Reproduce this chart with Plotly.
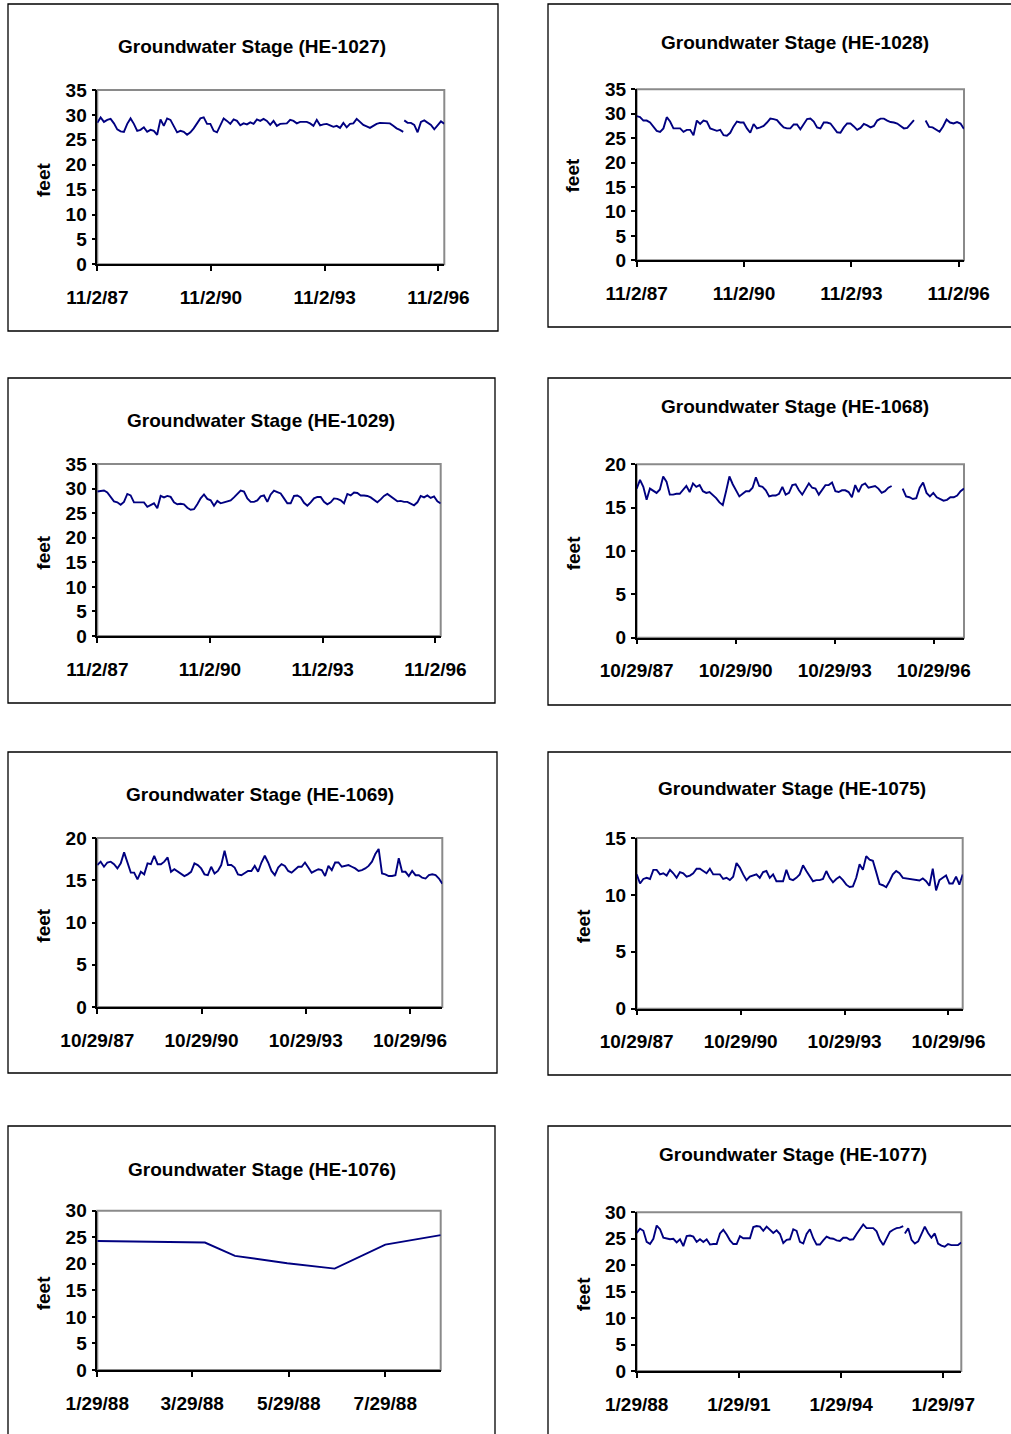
import pandas as pd
import plotly.graph_objects as go

W, H = 1011, 1434

# ---------------- data ----------------
TITLES = ["Groundwater Stage (HE-1027)", "Groundwater Stage (HE-1028)",
          "Groundwater Stage (HE-1029)", "Groundwater Stage (HE-1068)",
          "Groundwater Stage (HE-1069)", "Groundwater Stage (HE-1075)",
          "Groundwater Stage (HE-1076)", "Groundwater Stage (HE-1077)"]
Y_LABEL = "feet"

TICKS_1102 = ["1987-11-02", "1990-11-02", "1993-11-02", "1996-11-02"]
TEXT_1102 = ["11/2/87", "11/2/90", "11/2/93", "11/2/96"]
TICKS_1029 = ["1987-10-29", "1990-10-29", "1993-10-29", "1996-10-29"]
TEXT_1029 = ["10/29/87", "10/29/90", "10/29/93", "10/29/96"]
TICKS_1076 = ["1988-01-29", "1988-03-29", "1988-05-29", "1988-07-29"]
TEXT_1076 = ["1/29/88", "3/29/88", "5/29/88", "7/29/88"]
TICKS_1077 = ["1988-01-29", "1991-01-29", "1994-01-29", "1997-01-29"]
TEXT_1077 = ["1/29/88", "1/29/91", "1/29/94", "1/29/97"]

HE1027_A = [28.4, 29.5, 28.6, 29.0, 29.2, 28.3, 27.1, 26.7, 26.6, 28.2,
            29.3, 28.2, 26.8, 27.0, 27.5, 26.6, 27.0, 26.8, 26.0, 29.1,
            27.8, 29.3, 29.0, 27.8, 26.5, 26.8, 26.6, 26.0, 26.5, 27.3,
            28.2, 29.3, 29.5, 28.2, 28.2, 26.8, 26.5, 28.0, 29.3, 28.8,
            28.2, 29.1, 28.8, 27.9, 28.3, 28.1, 28.5, 28.2, 29.1, 28.8,
            29.2, 28.8, 28.0, 28.8, 27.8, 28.2, 28.2, 28.3, 29.0, 28.8,
            28.3, 28.6, 28.6, 28.6, 28.3, 27.8, 29.0, 27.9, 28.1, 28.2,
            27.9, 27.6, 27.8, 27.4, 28.4, 27.5, 28.2, 28.3, 29.2, 28.6,
            28.0, 27.7, 27.4, 27.8, 28.2, 28.4, 28.4, 28.4, 28.3, 27.8,
            27.3, 27.0, 26.6]
HE1027_B = [28.9, 28.4, 28.4, 28.0, 26.5, 28.6, 28.9, 28.5, 28.0, 27.1, 27.8, 28.7, 28.2]

HE1028_A = [29.5, 29.3, 28.6, 28.6, 28.2, 27.4, 26.5, 26.3, 27.0, 29.3,
            28.4, 27.0, 27.0, 27.0, 26.3, 26.7, 26.7, 25.6, 28.6, 27.9,
            28.6, 28.4, 27.0, 26.7, 26.5, 26.7, 25.6, 25.5, 26.1, 27.4,
            28.4, 28.2, 28.2, 27.0, 26.1, 27.9, 27.0, 27.2, 27.5, 28.2,
            29.0, 28.9, 28.7, 27.9, 27.2, 27.0, 27.0, 27.8, 27.8, 26.8,
            28.0, 28.9, 29.0, 28.4, 27.2, 27.0, 28.2, 28.2, 28.0, 27.2,
            26.2, 26.1, 27.2, 28.0, 28.0, 27.4, 26.7, 27.1, 27.9, 27.6,
            27.2, 27.5, 28.6, 29.0, 29.0, 28.6, 28.3, 28.2, 28.0, 27.5,
            27.0, 27.1, 27.9, 28.7]
HE1028_B = [28.6, 27.3, 27.2, 26.8, 26.3, 27.4, 28.8, 28.2, 28.0, 28.3, 28.0, 26.9]

HE1029 = [29.4, 29.5, 29.6, 29.2, 28.3, 27.4, 27.2, 26.7, 27.3, 28.9,
          28.6, 27.2, 27.2, 27.2, 27.2, 26.3, 26.7, 27.0, 26.0, 28.5,
          28.2, 28.5, 28.3, 27.2, 26.8, 26.9, 26.8, 26.1, 25.7, 25.8,
          26.8, 28.0, 28.8, 27.9, 27.6, 26.5, 27.5, 27.0, 27.2, 27.4,
          27.6, 28.2, 29.0, 29.6, 29.4, 28.0, 27.3, 27.3, 27.6, 28.4,
          28.6, 27.3, 28.8, 29.6, 29.3, 29.0, 28.0, 27.0, 27.0, 28.5,
          28.6, 28.2, 27.1, 26.5, 27.2, 28.0, 28.3, 28.3, 27.3, 26.8,
          27.2, 28.0, 27.9, 27.6, 27.0, 28.9, 28.6, 29.2, 29.1, 28.6,
          28.6, 28.5, 28.2, 27.6, 27.2, 27.8, 28.5, 28.9, 28.4, 27.9,
          27.4, 27.5, 27.3, 27.3, 27.0, 26.6, 27.2, 28.5, 28.2, 28.6,
          28.1, 28.4, 27.4, 27.0]

HE1068_A = [17.2, 18.2, 17.4, 15.9, 17.2, 16.9, 16.7, 17.1, 18.6, 18.0,
            16.5, 16.5, 16.6, 16.6, 17.0, 17.5, 16.8, 17.8, 17.4, 17.6,
            16.9, 16.7, 16.8, 16.5, 16.1, 15.6, 15.3, 16.9, 18.6, 17.7,
            17.0, 16.3, 16.6, 16.9, 16.9, 17.3, 18.5, 17.5, 17.4, 17.0,
            16.3, 16.4, 16.4, 16.6, 17.4, 16.5, 16.7, 17.6, 17.7, 17.0,
            16.5, 17.1, 17.8, 17.3, 17.2, 16.5, 17.1, 17.6, 17.6, 17.9,
            16.9, 16.8, 17.0, 17.0, 16.8, 16.2, 17.6, 16.8, 17.6, 17.8,
            17.3, 17.4, 17.5, 17.2, 16.7, 16.9, 17.3, 17.5]
HE1068_B = [17.2, 16.3, 16.2, 16.0, 16.1, 17.3, 17.9, 16.7, 16.3, 16.7,
            16.2, 16.0, 15.8, 15.9, 16.2, 16.2, 16.4, 16.9, 17.2]

HE1069 = [16.8, 17.2, 16.6, 17.1, 17.2, 16.9, 16.4, 17.0, 18.3, 17.2,
          15.9, 15.9, 15.1, 16.0, 15.7, 17.0, 16.9, 17.9, 16.9, 16.9,
          17.2, 17.7, 16.0, 16.3, 16.0, 15.8, 15.5, 15.7, 16.0, 17.0,
          16.8, 16.4, 15.7, 15.6, 16.6, 15.8, 16.1, 16.8, 18.5, 16.8,
          16.8, 16.5, 15.7, 15.6, 15.9, 16.1, 16.1, 16.7, 16.0, 17.1,
          17.9, 17.1, 16.1, 15.6, 16.5, 16.9, 16.7, 16.1, 15.9, 16.3,
          16.6, 16.6, 17.1, 16.5, 15.9, 16.1, 16.3, 16.2, 15.5, 16.7,
          16.2, 17.1, 17.1, 16.6, 16.7, 16.8, 16.6, 16.4, 16.1, 16.2,
          16.4, 16.7, 17.2, 18.1, 18.7, 15.8, 15.7, 15.5, 15.5, 15.6,
          17.6, 16.0, 16.0, 15.5, 16.1, 15.6, 15.6, 15.3, 15.2, 15.6,
          15.7, 15.6, 15.2, 14.6]

HE1075 = [11.8, 11.0, 11.4, 11.5, 11.4, 12.2, 12.2, 11.8, 11.9, 11.7,
          12.2, 11.9, 11.5, 12.0, 11.9, 11.6, 11.7, 11.9, 12.3, 12.3,
          12.1, 11.9, 12.3, 11.8, 11.8, 11.8, 11.4, 11.5, 11.3, 11.6,
          12.8, 12.4, 11.8, 11.3, 11.6, 11.7, 11.8, 11.5, 12.0, 12.1,
          11.5, 11.8, 11.2, 11.2, 11.2, 12.2, 11.4, 11.3, 11.5, 11.8,
          12.6, 12.1, 11.6, 11.2, 11.3, 11.3, 11.4, 12.1, 11.5, 11.1,
          11.4, 11.6, 11.3, 10.9, 10.7, 10.75, 11.5, 12.7, 12.2, 13.4,
          13.1, 13.0, 12.0, 10.95, 10.85, 10.67, 11.2, 11.8, 12.1, 11.9,
          11.5, 11.45, 11.4, 11.35, 11.3, 11.27, 11.45, 11.2, 10.8, 12.3,
          10.4, 11.3, 11.5, 11.7, 11.0, 11.0, 11.6, 10.9, 11.8]

HE1076_DATES = ["1988-01-29", "1988-04-06", "1988-04-25", "1988-05-28",
                "1988-06-27", "1988-07-29", "1988-09-02"]
HE1076 = [24.3, 24.0, 21.5, 20.1, 19.1, 23.6, 25.4]

HE1077_A = [26.1, 26.9, 26.5, 24.4, 24.0, 25.0, 27.5, 26.8, 25.2, 25.1,
            24.9, 25.0, 24.3, 24.9, 23.6, 25.5, 25.6, 25.4, 24.4, 24.9,
            24.4, 24.9, 23.9, 24.0, 24.0, 26.0, 26.7, 25.8, 24.7, 24.0,
            24.0, 25.5, 25.1, 25.1, 25.1, 27.2, 27.4, 27.3, 26.5, 27.3,
            26.7, 26.1, 26.6, 25.9, 24.2, 24.8, 24.9, 26.8, 26.5, 24.4,
            24.1, 25.9, 26.8, 25.1, 23.9, 23.9, 24.7, 25.4, 25.1, 25.0,
            24.7, 24.6, 25.2, 25.2, 24.8, 24.9, 25.9, 26.9, 27.7, 27.0,
            27.0, 27.0, 26.4, 24.8, 23.8, 25.0, 26.3, 26.7, 27.0, 27.1,
            27.4]
HE1077_B = [26.0, 27.0, 24.8, 24.1, 24.5, 25.9, 27.3, 26.1, 25.2, 26.0,
            24.1, 23.7, 23.5, 24.0, 23.8, 23.8, 23.8, 24.3]

# segments: (first date, last date, values) - samples evenly spaced in time
SEGMENTS = [
    [("1987-11-02", "1995-11-29", HE1027_A), ("1995-12-09", "1996-12-29", HE1027_B)],
    [("1987-11-02", "1995-08-03", HE1028_A), ("1995-11-30", "1996-12-26", HE1028_B)],
    [("1987-11-02", "1996-12-23", HE1029)],
    [("1987-10-29", "1995-07-21", HE1068_A), ("1995-11-20", "1997-09-29", HE1068_B)],
    [("1987-10-29", "1997-10-04", HE1069)],
    [("1987-10-29", "1997-03-28", HE1075)],
    None,
    [("1988-01-29", "1995-11-26", HE1077_A), ("1995-12-14", "1997-08-10", HE1077_B)],
]
X_RANGES = [["1987-11-02", "1996-12-29"], ["1987-11-02", "1996-12-26"],
            ["1987-11-02", "1996-12-23"], ["1987-10-29", "1997-09-29"],
            ["1987-10-29", "1997-10-04"], ["1987-10-29", "1997-03-28"],
            ["1988-01-29", "1988-09-02"], ["1988-01-29", "1997-08-10"]]
Y_MAX = [35, 35, 35, 20, 20, 15, 30, 30]
TICKVALS = [TICKS_1102, TICKS_1102, TICKS_1102, TICKS_1029, TICKS_1029, TICKS_1029, TICKS_1076, TICKS_1077]
TICKTEXT = [TEXT_1102, TEXT_1102, TEXT_1102, TEXT_1029, TEXT_1029, TEXT_1029, TEXT_1076, TEXT_1077]

# ---------------- layout geometry (pixels) ----------------
# box (l, t, r, b), plot area (l, t, r, b), title centre, "feet" centre
GEOM = [
    dict(box=(8, 4, 498, 331), plot=(97.3, 90, 444.3, 264.3), title=(251.7, 46.7), feet=(43, 180)),
    dict(box=(548, 4, 1016, 327), plot=(636.7, 89.3, 964, 260.3), title=(794.7, 42.7), feet=(572.5, 176)),
    dict(box=(8, 378, 495, 703), plot=(97.3, 464, 440.7, 636), title=(261, 420.7), feet=(42.7, 553)),
    dict(box=(548, 378, 1016, 705), plot=(636.7, 464.3, 964, 637.7), title=(794.7, 406.7), feet=(573.3, 553)),
    dict(box=(8, 752, 497, 1073), plot=(97.3, 838, 442.3, 1007), title=(260, 794.7), feet=(42.7, 926)),
    dict(box=(548, 752, 1016, 1075), plot=(636.7, 838, 962.7, 1008.7), title=(792, 788.7), feet=(583.3, 926)),
    dict(box=(8, 1126, 495, 1445), plot=(97.3, 1210.7, 440.7, 1370), title=(262, 1169.3), feet=(43.3, 1293)),
    dict(box=(548, 1126, 1016, 1445), plot=(636.7, 1212.3, 961.3, 1371), title=(792.8, 1154), feet=(583.3, 1294)),
]

FONT = dict(family="Liberation Sans, Arial, sans-serif", size=19, color="black", weight="bold")
LINE_COLOR = "#000080"


def fx(px):
    return px / W


def fy(py):
    return 1 - py / H


fig = go.Figure()
shapes, annotations = [], []
layout_axes = {}

for i in range(8):
    n = i + 1
    xa = "x" if n == 1 else f"x{n}"
    ya = "y" if n == 1 else f"y{n}"
    g = GEOM[i]

    if SEGMENTS[i] is None:
        fig.add_trace(go.Scatter(x=pd.to_datetime(HE1076_DATES), y=HE1076, mode="lines",
                                 line=dict(color=LINE_COLOR, width=1.9),
                                 xaxis=xa, yaxis=ya, showlegend=False, hoverinfo="skip"))
    else:
        for start, end, vals in SEGMENTS[i]:
            dates = pd.date_range(start, end, periods=len(vals))
            fig.add_trace(go.Scatter(x=dates, y=vals, mode="lines",
                                     line=dict(color=LINE_COLOR, width=1.9),
                                     xaxis=xa, yaxis=ya, showlegend=False, hoverinfo="skip"))

    pl, pt, pr, pb = g["plot"]
    layout_axes["xaxis" if n == 1 else f"xaxis{n}"] = dict(
        domain=[fx(pl), fx(pr)], anchor=ya, type="date", range=X_RANGES[i],
        tickmode="array", tickvals=TICKVALS[i], ticktext=TICKTEXT[i],
        ticks="outside", ticklen=5, tickwidth=1.5, tickcolor="black",
        showline=True, linecolor="black", linewidth=1.5, automargin=False,
        showgrid=False, zeroline=False, tickfont=FONT, ticklabelstandoff=10,
        fixedrange=True)
    layout_axes["yaxis" if n == 1 else f"yaxis{n}"] = dict(
        domain=[fy(pb), fy(pt)], anchor=xa, range=[0, Y_MAX[i]], automargin=False,
        tick0=0, dtick=5, ticks="outside", ticklen=4, tickwidth=1.5, tickcolor="black",
        showline=True, linecolor="black", linewidth=1.5,
        showgrid=False, zeroline=False, tickfont=FONT, ticklabelstandoff=1,
        fixedrange=True)

    # grey plot-area frame
    shapes.append(dict(type="rect", xref="paper", yref="paper",
                       x0=fx(pl), x1=fx(pr), y0=fy(pb), y1=fy(pt),
                       line=dict(color="#8a8a8a", width=2), fillcolor="rgba(0,0,0,0)",
                       layer="below"))
    # chart box
    bl, bt, br, bb = g["box"]
    shapes.append(dict(type="rect", xref="paper", yref="paper",
                       x0=fx(bl), x1=fx(br), y0=fy(bb), y1=fy(bt),
                       line=dict(color="black", width=1.3), fillcolor="rgba(0,0,0,0)"))
    tx, ty = g["title"]
    annotations.append(dict(text=TITLES[i], xref="paper", yref="paper", x=fx(tx), y=fy(ty),
                            xanchor="center", yanchor="middle", showarrow=False, font=FONT))
    lx, ly = g["feet"]
    annotations.append(dict(text=Y_LABEL, xref="paper", yref="paper", x=fx(lx), y=fy(ly),
                            xanchor="center", yanchor="middle", showarrow=False, font=FONT,
                            textangle=-90))

fig.update_layout(width=W, height=H, margin=dict(l=0, r=0, t=0, b=0, autoexpand=False),
                  paper_bgcolor="white", plot_bgcolor="white",
                  shapes=shapes, annotations=annotations, **layout_axes)

fig.write_html("out.html", config={"displayModeBar": False},
               post_script="document.body.style.margin='0px';document.body.style.overflow='hidden';")
